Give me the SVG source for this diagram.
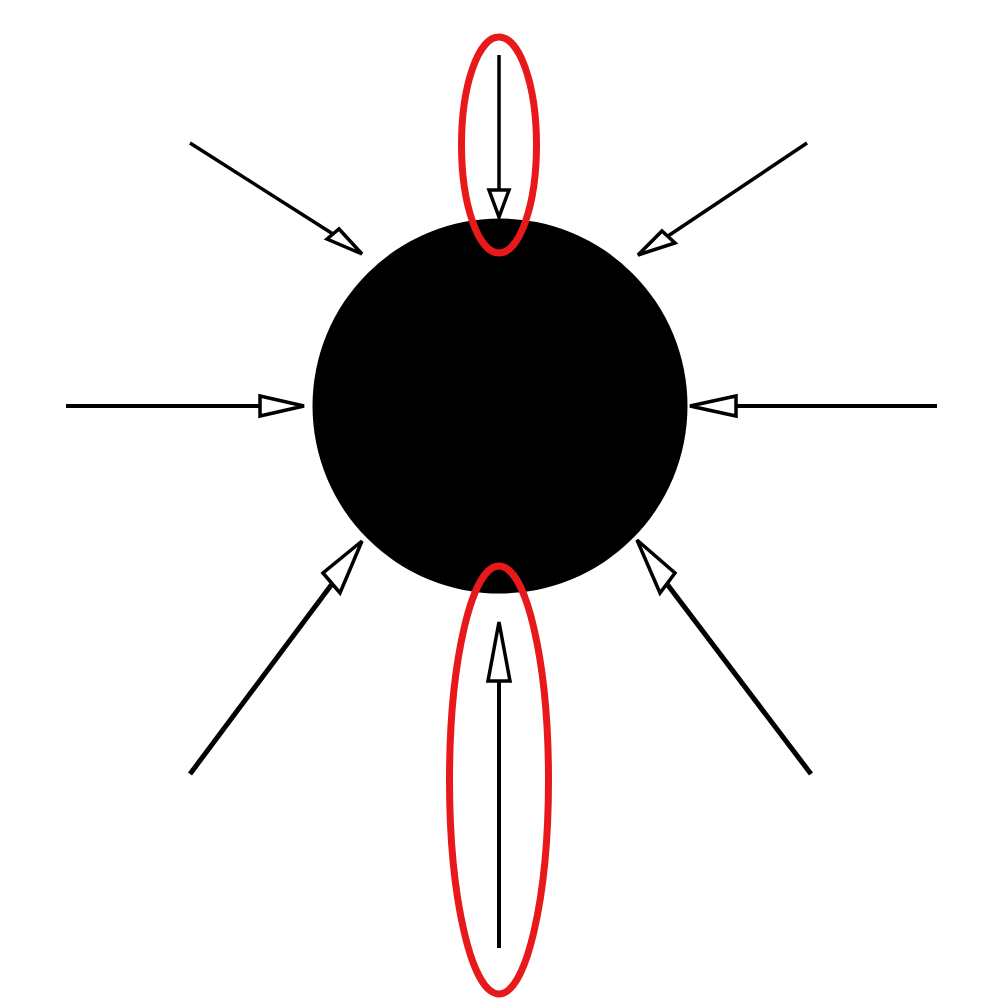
<svg xmlns="http://www.w3.org/2000/svg" width="1000" height="1000" viewBox="0 0 1000 1000">
<style>
.ln{stroke:#000;stroke-width:4;fill:none}
.hd{stroke:#000;stroke-width:3.5;fill:#fff;stroke-linejoin:miter}
.ov{fill:none;stroke:#e8191b;stroke-width:7}
</style>
<rect width="1000" height="1000" fill="#fff"/>
<g id="core"><circle cx="500" cy="406" r="187.5" fill="#000"/></g>
<g id="connectors">
<line class="ln" x1="66" y1="406" x2="260" y2="406"/><polygon class="hd" points="260,396 260,416 304,406"/>
<line class="ln" x1="937" y1="406" x2="736" y2="406"/><polygon class="hd" points="736,396 736,416 690,406"/>
<line class="ln" style="stroke-width:3.5" x1="499" y1="55" x2="499" y2="190"/><polygon class="hd" points="489,190 509,190 499,217"/>
<line class="ln" x1="499" y1="948" x2="499" y2="681"/><polygon class="hd" points="488,681 510,681 499,622"/>
<line class="ln" style="stroke-width:5" x1="190" y1="774" x2="332" y2="584"/><polygon class="hd" points="323,573 340,593 362,541"/>
<line class="ln" style="stroke-width:5" x1="811" y1="774" x2="667" y2="584"/><polygon class="hd" points="675,573 660,593 637,540"/>
<line class="ln" style="stroke-width:3.5" x1="190" y1="143" x2="333" y2="234"/><polygon class="hd" points="327,239 339,229 362,254"/>
<line class="ln" style="stroke-width:3.5" x1="807" y1="143" x2="668" y2="236"/><polygon class="hd" points="662,231 675,243 638,255"/>
</g>
<g id="highlight-top"><ellipse class="ov" cx="499" cy="145" rx="37.5" ry="108"/></g>
<g id="highlight-bottom"><ellipse class="ov" cx="499" cy="780" rx="49.5" ry="214"/></g>
</svg>
